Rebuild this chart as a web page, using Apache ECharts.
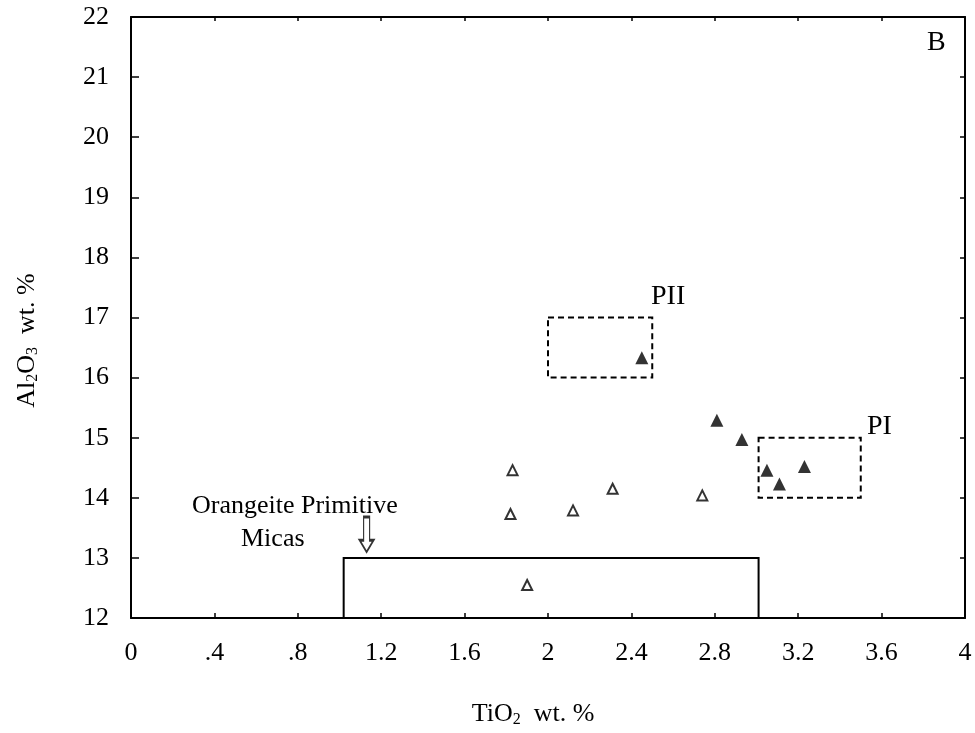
<!DOCTYPE html>
<html>
<head>
<meta charset="utf-8">
<script src="https://cdn.jsdelivr.net/npm/echarts@6/dist/echarts.min.js"></script>
<style>
html,body{margin:0;padding:0;background:#fff;}
#chart{width:975px;height:733px;}
</style>
</head>
<body>
<div id="chart"></div>
<script>
// ---- data ----
var xTicks = [0, 0.4, 0.8, 1.2, 1.6, 2, 2.4, 2.8, 3.2, 3.6, 4];
var yTicks = [12, 13, 14, 15, 16, 17, 18, 19, 20, 21, 22];
var filledTiO2 = [2.45, 2.81, 2.93, 3.05, 3.11, 3.23];
var filledAl2O3 = [16.33, 15.29, 14.97, 14.46, 14.23, 14.52];
var openTiO2 = [1.83, 1.82, 2.12, 2.31, 2.74, 1.90];
var openAl2O3 = [14.46, 13.73, 13.79, 14.15, 14.04, 12.55];
// fields: [xmin, xmax, ymin, ymax]
var boxPII = [2.0, 2.5, 16, 17];
var boxPI = [3.01, 3.5, 14, 15];
var boxOrangeite = [1.02, 3.01, 12, 13];
var arrowPoint = [1.13, 13.39];

function pairs(xs, ys) { return xs.map(function (x, i) { return [x, ys[i]]; }); }
function area(b) { return [[{ coord: [b[0], b[3]] }, { coord: [b[1], b[2]] }]]; }
function fmtX(v) {
  var s = (Math.round(v * 10) / 10).toString();
  if (s.indexOf('0.') === 0) s = s.substring(1);
  return s;
}

var FONT = 'Liberation Serif';
function line() { return { show: true, onZero: false, lineStyle: { color: '#000', width: 2 } }; }
function tick(len) { return { show: true, inside: true, length: len, lineStyle: { color: '#000', width: 1.5 } }; }

var chart = echarts.init(document.getElementById('chart'));
chart.setOption({
  backgroundColor: '#fff',
  animation: false,
  grid: { left: 131, right: 10, top: 17, bottom: 111, containLabel: false },
  xAxis: [
    {
      type: 'value', min: xTicks[0], max: xTicks[xTicks.length - 1], interval: 0.4,
      position: 'bottom',
      axisLine: line(), axisTick: tick(5), splitLine: { show: false },
      axisLabel: { color: '#000', fontFamily: FONT, fontSize: 26, margin: 22, formatter: fmtX },
      name: '{t|TiO}{s|2}{t|  wt. %}',
      nameLocation: 'middle', nameGap: 82,
      nameTextStyle: {
        padding: [0, 30, 0, 0],
        rich: {
          t: { fontFamily: FONT, fontSize: 26, color: '#000' },
          s: { fontFamily: FONT, fontSize: 16, color: '#000', padding: [12, 0, 0, 0] }
        }
      }
    },
    {
      type: 'value', min: xTicks[0], max: xTicks[xTicks.length - 1], interval: 0.4,
      position: 'top',
      axisLine: line(), axisTick: tick(4), splitLine: { show: false },
      axisLabel: { show: false }
    }
  ],
  yAxis: [
    {
      type: 'value', min: yTicks[0], max: yTicks[yTicks.length - 1], interval: 1,
      position: 'left',
      axisLine: line(), axisTick: tick(8), splitLine: { show: false },
      axisLabel: { color: '#000', fontFamily: FONT, fontSize: 26, margin: 22 },
      name: '{t|Al}{s|2}{t|O}{s|3}{t|  wt. %}',
      nameLocation: 'middle', nameGap: 90, nameRotate: 90,
      nameTextStyle: {
        padding: [0, 46, 0, 0],
        rich: {
          t: { fontFamily: FONT, fontSize: 26, color: '#000' },
          s: { fontFamily: FONT, fontSize: 16, color: '#000', padding: [12, 0, 0, 0] }
        }
      }
    },
    {
      type: 'value', min: yTicks[0], max: yTicks[yTicks.length - 1], interval: 1,
      position: 'right',
      axisLine: line(), axisTick: tick(5), splitLine: { show: false },
      axisLabel: { show: false }
    }
  ],
  series: [
    {
      name: 'boxes-dashed', type: 'scatter', data: [], silent: true,
      markArea: {
        silent: true,
        itemStyle: { color: 'rgba(0,0,0,0)', borderColor: '#000', borderWidth: 2, borderType: [6, 4] },
        data: area(boxPII).concat(area(boxPI))
      }
    },
    {
      name: 'Orangeite Primitive Micas', type: 'scatter', data: [], silent: true,
      markArea: {
        silent: true,
        itemStyle: { color: 'rgba(0,0,0,0)', borderColor: '#000', borderWidth: 2 },
        data: area(boxOrangeite)
      }
    },
    {
      name: 'arrow', type: 'scatter', silent: true,
      symbol: 'path://M4,0 L10,0 L10,24 L14,24 L7,36 L0,24 L4,24 Z',
      symbolSize: [14, 35], symbolKeepAspect: false,
      itemStyle: { color: '#fff', borderColor: '#000', borderWidth: 1.8 },
      data: [arrowPoint]
    },
    {
      name: 'open', type: 'scatter', symbol: 'triangle', symbolSize: 10,
      itemStyle: { color: '#fff', borderColor: '#000', borderWidth: 2 },
      data: pairs(openTiO2, openAl2O3)
    },
    {
      name: 'filled', type: 'scatter', symbol: 'triangle', symbolSize: 13,
      itemStyle: { color: '#000' },
      data: pairs(filledTiO2, filledAl2O3)
    }
  ],
  graphic: [
    { type: 'text', left: 927, top: 29, style: { text: 'B', fontFamily: FONT, fontSize: 28, fill: '#000' } },
    { type: 'text', left: 651, top: 283, style: { text: 'PII', fontFamily: FONT, fontSize: 28, fill: '#000' } },
    { type: 'text', left: 867, top: 413, style: { text: 'PI', fontFamily: FONT, fontSize: 28, fill: '#000' } },
    { type: 'text', left: 192, top: 493, style: { text: 'Orangeite Primitive', fontFamily: FONT, fontSize: 26, fill: '#000' } },
    { type: 'text', left: 241, top: 526, style: { text: 'Micas', fontFamily: FONT, fontSize: 26, fill: '#000' } }
  ]
});
</script>
</body>
</html>
